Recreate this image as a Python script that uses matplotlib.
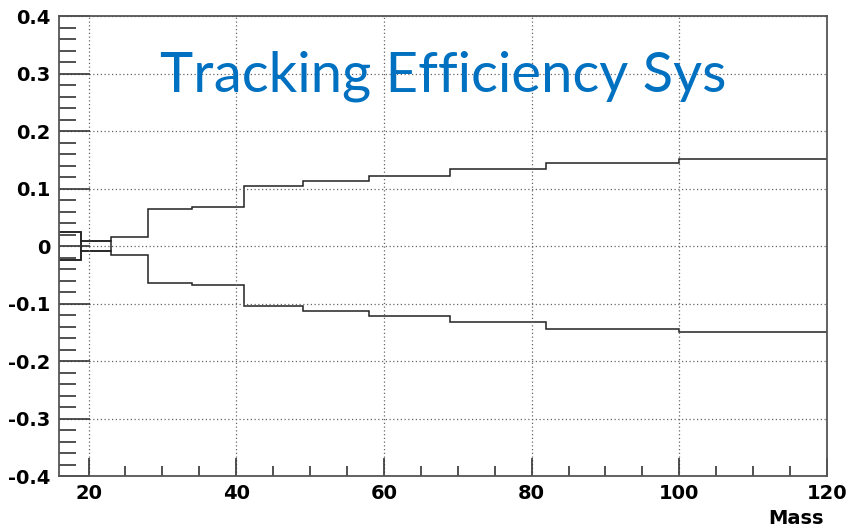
import matplotlib
matplotlib.use("Agg")
import matplotlib.pyplot as plt
from matplotlib.ticker import MultipleLocator
import numpy as np

# mass bin edges and relative systematic shift per bin
massEdges = [16, 19, 23, 28, 34, 41, 49, 58, 69, 82, 100, 120]
sysUp = [0.025, 0.009, 0.015, 0.065, 0.067, 0.104, 0.113, 0.122, 0.134, 0.145, 0.151]
sysDown = [-0.025, -0.009, -0.015, -0.065, -0.067, -0.104, -0.113, -0.121, -0.133, -0.144, -0.150]
yTickLabels = ["-0.4", "-0.3", "-0.2", "-0.1", "0", "0.1", "0.2", "0.3", "0.4"]

plt.rcParams["font.family"] = ["DejaVu Sans"]

fig = plt.figure(figsize=(8.5, 5.31), dpi=100)
ax = fig.add_axes([59 / 850, 1 - 476 / 531, (827 - 59) / 850, (476 - 16) / 531])

lineColor = "#222222"
ax.stairs(sysUp, massEdges, baseline=None, color=lineColor, linewidth=1.1)
ax.stairs(sysDown, massEdges, baseline=None, color=lineColor, linewidth=1.1)

# the two lowest mass bins are drawn as closed boxes
edges = np.array(massEdges)
up = np.array(sysUp)
down = np.array(sysDown)
ax.bar(edges[:2], up[:2] - down[:2], width=np.diff(edges)[:2], bottom=down[:2], align="edge",
       fill=False, edgecolor=lineColor, linewidth=1.1)

ax.set_xlim(massEdges[0], massEdges[-1])
ax.set_ylim(-0.4, 0.4)

ax.xaxis.set_major_locator(MultipleLocator(20))
ax.xaxis.set_minor_locator(MultipleLocator(5))
ax.yaxis.set_minor_locator(MultipleLocator(0.02))
ax.set_yticks(np.arange(-0.4, 0.41, 0.1))
ax.set_yticklabels(yTickLabels)

ax.grid(True, which="major", linestyle=(0, (1, 2)), color="#666666", linewidth=0.9)

ax.tick_params(axis="x", which="major", direction="in", length=13, width=1.2, color="#333333",
               labelsize=14, pad=6)
ax.tick_params(axis="x", which="minor", direction="in", length=7, width=1.2, color="#333333")
ax.tick_params(axis="y", which="major", direction="in", length=22, width=1.2, color="#333333",
               labelsize=14, pad=6)
ax.tick_params(axis="y", which="minor", direction="in", length=12, width=1.2, color="#333333")

for lab in ax.get_xticklabels() + ax.get_yticklabels():
    lab.set_fontweight("bold")

for side in ["left", "bottom", "right", "top"]:
    ax.spines[side].set_color("#555555")
    ax.spines[side].set_linewidth(1.3)

fig.text(796 / 850, 1 - 518 / 531, "Mass", fontsize=14, fontweight="bold", ha="center", va="center")

fig.text(443 / 850, 1 - 92 / 531, "Tracking Efficiency Sys", fontsize=40.5, color="#0070C0",
         family=["Lato", "DejaVu Sans"], ha="center", va="baseline")

plt.savefig("out.png", dpi=100)
